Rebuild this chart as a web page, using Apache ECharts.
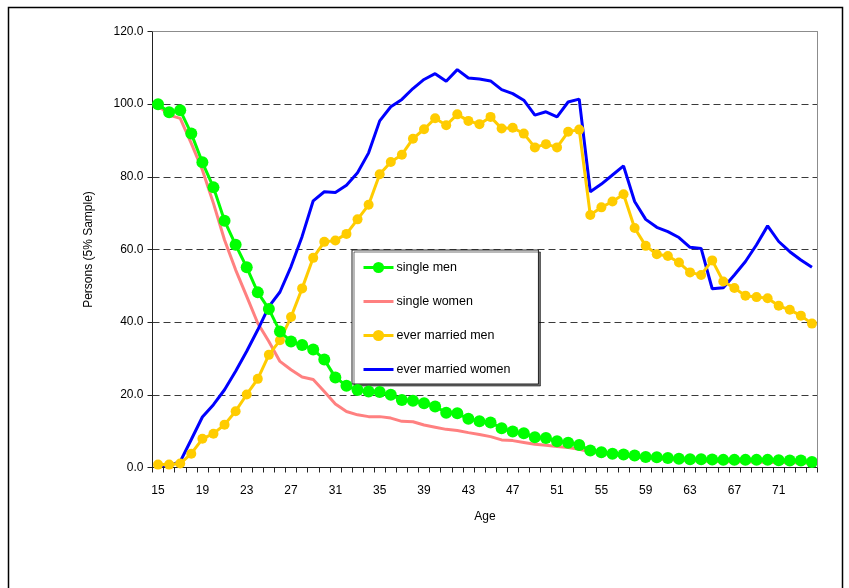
<!DOCTYPE html>
<html>
<head>
<meta charset="utf-8">
<script src="https://cdn.jsdelivr.net/npm/echarts@6/dist/echarts.min.js"></script>
<style>
  html, body { margin: 0; padding: 0; background: #fff; }
  #chart { width: 849px; height: 588px; }
</style>
</head>
<body>
<div id="chart"></div>
<script>
// Ages 15..74
const ages = ['15','16','17','18','19','20','21','22','23','24','25','26','27','28','29','30','31','32','33','34','35','36','37','38','39','40','41','42','43','44','45','46','47','48','49','50','51','52','53','54','55','56','57','58','59','60','61','62','63','64','65','66','67','68','69','70','71','72','73','74'];

const singleMen = [100.0, 97.8, 98.3, 91.9, 84.0, 77.1, 67.9, 61.3, 55.1, 48.2,
  43.6, 37.4, 34.7, 33.7, 32.5, 29.7, 24.8, 22.5, 21.3, 20.9,
  20.8, 20.0, 18.6, 18.4, 17.7, 16.8, 15.1, 14.9, 13.4, 12.7,
  12.4, 10.8, 9.9, 9.4, 8.3, 8.1, 7.2, 6.8, 6.2, 4.7,
  4.2, 3.8, 3.6, 3.3, 2.9, 2.8, 2.6, 2.4, 2.3, 2.3,
  2.2, 2.1, 2.1, 2.1, 2.1, 2.1, 2.0, 1.9, 1.9, 1.5];

const singleWomen = [99.7, 97.0, 96.1, 89.2, 81.9, 72.7, 62.6, 54.4, 47.1, 39.7,
  34.7, 29.2, 26.9, 24.9, 24.2, 20.9, 17.5, 15.4, 14.5, 14.0,
  14.0, 13.6, 12.7, 12.6, 11.7, 11.1, 10.5, 10.2, 9.6, 9.1,
  8.5, 7.6, 7.4, 6.9, 6.4, 6.1, 5.8, 5.5, 5.0, 4.3,
  3.9, 3.5, 3.2, 2.9, 2.6, 2.4, 2.2, 2.0, 1.9, 1.8,
  1.7, 1.6, 1.6, 1.5, 1.5, 1.4, 1.4, 1.3, 1.3, 1.2];

const everMarriedMen = [0.8, 0.8, 1.1, 3.8, 7.9, 9.3, 11.8, 15.5, 20.1, 24.4,
  31.0, 35.0, 41.4, 49.3, 57.7, 62.1, 62.5, 64.3, 68.3, 72.3,
  80.7, 84.1, 86.1, 90.5, 93.1, 96.1, 94.2, 97.2, 95.4, 94.5,
  96.5, 93.3, 93.5, 91.9, 88.1, 89.0, 88.1, 92.4, 93.0, 69.5,
  71.6, 73.2, 75.2, 65.9, 61.0, 58.7, 58.2, 56.4, 53.7, 53.0,
  57.0, 51.2, 49.4, 47.3, 46.9, 46.6, 44.5, 43.4, 41.8, 39.6];

const everMarriedWomen = [0.5, 0.5, 1.6, 7.7, 13.9, 17.3, 21.4, 26.5, 32.0, 37.9,
  44.3, 48.3, 55.3, 63.6, 73.4, 75.9, 75.7, 77.7, 81.1, 86.6,
  95.4, 99.3, 101.3, 104.3, 106.8, 108.4, 106.3, 109.5, 107.2, 106.9,
  106.4, 104.0, 102.9, 101.1, 97.0, 97.9, 96.5, 100.6, 101.4, 75.9,
  78.0, 80.5, 83.0, 73.2, 68.3, 66.1, 64.9, 63.3, 60.6, 60.3,
  49.2, 49.5, 53.0, 56.7, 61.3, 66.5, 62.2, 59.4, 57.1, 55.1];

const yTicks = { min: 0, max: 120, step: 20 };

const FONT = '"Liberation Sans", Arial, sans-serif';

const chart = echarts.init(document.getElementById('chart'), null, { renderer: 'canvas' });

// legend entries for plain lines carry no marker
const noMarker = { color: 'rgba(0,0,0,0)', borderWidth: 0 };
const thickLine = { width: 3 };

chart.setOption({
  animation: false,
  backgroundColor: '#ffffff',
  textStyle: { fontFamily: FONT, color: '#000' },
  graphic: [
    {
      type: 'rect',
      left: 6, top: 5,
      shape: { width: 834, height: 600 },
      style: { fill: 'none', stroke: '#000', lineWidth: 1.5 },
      silent: true, z: -10
    },
    {
      // plot frame (top and right edges)
      type: 'polyline',
      shape: { points: [[152.5, 31.5], [817.5, 31.5], [817.5, 467.5]] },
      style: { stroke: '#8c8c8c', lineWidth: 1, fill: 'none' },
      silent: true, z: 10
    }
  ],
  grid: { left: 152.5, right: 31.5, top: 31.5, bottom: 120.5, containLabel: false },
  legend: {
    orient: 'vertical',
    left: 352, top: 250,
    padding: [11, 28, 8, 10],
    itemGap: 21,
    itemWidth: 30, itemHeight: 14,
    backgroundColor: '#fff',
    borderColor: '#222', borderWidth: 1,
    shadowColor: 'rgba(0,0,0,0.55)', shadowOffsetX: 2, shadowOffsetY: 2, shadowBlur: 0,
    textStyle: { fontFamily: FONT, fontSize: 12.5, color: '#000', padding: [0, 0, 0, -2] },
    data: [
      { name: 'single men', lineStyle: thickLine },
      { name: 'single women', itemStyle: noMarker, lineStyle: thickLine },
      { name: 'ever married men', lineStyle: thickLine },
      { name: 'ever married women', itemStyle: noMarker, lineStyle: thickLine }
    ]
  },
  xAxis: {
    type: 'category',
    data: ages,
    boundaryGap: true,
    name: 'Age',
    nameLocation: 'middle',
    nameGap: 43,
    nameTextStyle: { fontFamily: FONT, fontSize: 12, color: '#000' },
    axisLine: { lineStyle: { color: '#222', width: 1 } },
    axisTick: { show: true, interval: 0, length: 5, lineStyle: { color: '#222' } },
    axisLabel: { interval: 3, margin: 17, fontFamily: FONT, fontSize: 12, color: '#000' },
    splitLine: { show: false }
  },
  yAxis: {
    type: 'value',
    min: yTicks.min, max: yTicks.max, interval: yTicks.step,
    name: 'Persons (5% Sample)',
    nameLocation: 'middle',
    nameGap: 58,
    nameTextStyle: { fontFamily: FONT, fontSize: 12, color: '#000' },
    axisLine: { show: true, lineStyle: { color: '#222', width: 1 } },
    axisTick: { show: true, length: 5, lineStyle: { color: '#222' } },
    axisLabel: {
      margin: 9, fontFamily: FONT, fontSize: 12, color: '#000',
      formatter: v => v.toFixed(1)
    },
    splitLine: { show: true, lineStyle: { color: '#3a3a3a', type: [7, 4], width: 1 } }
  },
  series: [
    {
      name: 'single women', type: 'line', data: singleWomen, z: 2,
      symbol: 'none', lineStyle: { color: '#ff8080', width: 3 },
      itemStyle: { color: '#ff8080' }
    },
    {
      name: 'ever married women', type: 'line', data: everMarriedWomen, z: 3,
      symbol: 'none', lineStyle: { color: '#0000ff', width: 3 },
      itemStyle: { color: '#0000ff' }
    },
    {
      name: 'ever married men', type: 'line', data: everMarriedMen, z: 4,
      symbol: 'circle', symbolSize: 10, showAllSymbol: true,
      lineStyle: { color: '#ffcc00', width: 3 },
      itemStyle: { color: '#ffcc00' }
    },
    {
      name: 'single men', type: 'line', data: singleMen, z: 5,
      symbol: 'circle', symbolSize: 12, showAllSymbol: true,
      lineStyle: { color: '#00ff00', width: 3 },
      itemStyle: { color: '#00ff00' }
    }
  ]
});
</script>
</body>
</html>
